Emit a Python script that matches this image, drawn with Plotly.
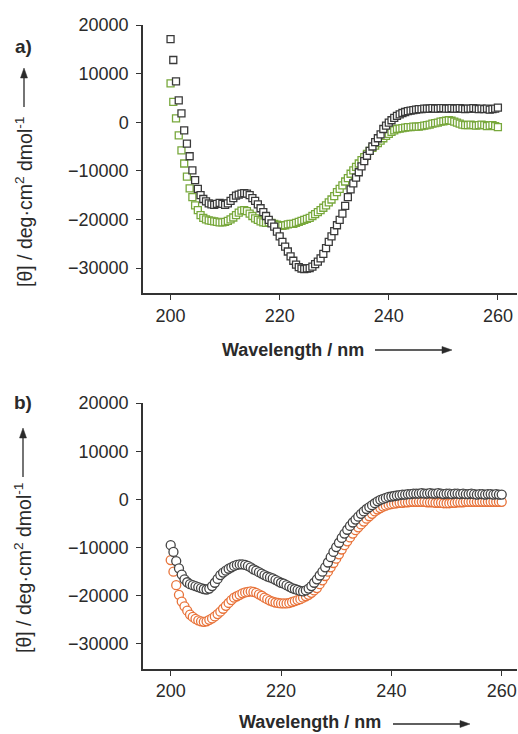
import plotly.graph_objects as go

W, H = 518, 734

# Wavelength grid (nm), 0.5 nm sampling 200..260
wavelength = [200 + 0.5 * i for i in range(121)]

# Panel a: squares
a_black = [
    17100, 12800, 8400, 4500, 1800, -1700, -4400, -7000, -9900, -11900,
    -13700, -15000, -15800, -16300, -16700, -16900, -17000, -16800, -16600, -16800,
    -17000, -16700, -16200, -15600, -15100, -14900, -14700, -14600, -14700, -15000,
    -15600, -16200, -16900, -17700, -18500, -19300, -20100, -20800, -21500, -22500,
    -23500, -24600, -25600, -26600, -27600, -28500, -29300, -29800, -30100, -30200,
    -30100, -30000, -29700, -29200, -28700, -28000, -27100, -25900, -24600, -23500,
    -22400, -21200, -20100, -18800, -17200, -15400, -13800, -12600, -11400, -10300,
    -9100, -8000, -6900, -5900, -5000, -4100, -3300, -2500, -1400, -700,
    -100, 400, 900, 1300, 1600, 1900, 2100, 2300, 2400, 2500,
    2600, 2700, 2700, 2800, 2800, 2800, 2900, 2800, 2800, 2900,
    2900, 2800, 2800, 2900, 2800, 2800, 2900, 2800, 2700, 2800,
    2800, 2900, 2800, 2700, 2800, 2700, 2800, 2600, 2700, 2800,
    3000,
]
a_green = [
    8000, 4200, 800, -2700, -5800, -8500, -11200, -13600, -15400, -17100,
    -18100, -19100, -19700, -20000, -20200, -20300, -20400, -20500, -20600, -20600,
    -20500, -20300, -20000, -19600, -19100, -18600, -18200, -18100, -18300, -18800,
    -19300, -19800, -20100, -20400, -20600, -20700, -20600, -20700, -20900, -21100,
    -21200, -21300, -21200, -21000, -20900, -20900, -20700, -20500, -20300, -20100,
    -19900, -19700, -19300, -18900, -18500, -18100, -17600, -17100, -16500, -15900,
    -15200, -14400, -13700, -13000, -12200, -11500, -10600, -9900, -9200, -8500,
    -7800, -7200, -6500, -5900, -5300, -4800, -4300, -3800, -3300, -2800,
    -2400, -2000, -1700, -1400, -1300, -1200, -1100, -1000, -1000, -900,
    -900, -900, -800, -700, -600, -500, -300, -200, -100, 100,
    200, 300, 400, 300, 100, -100, -300, -500, -600, -600,
    -500, -600, -700, -600, -500, -600, -800, -700, -600, -800,
    -1000,
]

# Panel b: circles
b_black = [
    -9500, -10900, -12800, -14300, -15600, -16600, -17200, -17600, -17800, -18000,
    -18200, -18400, -18600, -18700, -18500, -18000, -17300, -16500, -15700, -15200,
    -14800, -14400, -14100, -13800, -13600, -13500, -13500, -13600, -13800, -14100,
    -14500, -14800, -15100, -15400, -15700, -16000, -16200, -16400, -16700, -17000,
    -17300, -17500, -17800, -18100, -18400, -18600, -18800, -19000, -19100, -18900,
    -18500, -18000, -17300, -16600, -15800, -15000, -14100, -13100, -12000, -10900,
    -9900, -9000, -8000, -7100, -6300, -5500, -4800, -4200, -3600, -3000,
    -2500, -2000, -1600, -1200, -800, -400, -100, 100, 300, 500,
    600, 700, 800, 900, 1000, 1000, 1100, 1100, 1200, 1200,
    1200, 1300, 1200, 1200, 1300, 1200, 1200, 1300, 1200, 1100,
    1200, 1200, 1100, 1200, 1200, 1100, 1200, 1100, 1100, 1200,
    1100, 1000, 1100, 1100, 1000, 1100, 1100, 1000, 1100, 1000,
    1000,
]
b_orange = [
    -12600, -15000, -17800, -19800, -21200, -22200, -23100, -23900, -24400, -24800,
    -25100, -25300, -25400, -25300, -25000, -24700, -24300, -23800, -23300, -22700,
    -22100, -21500, -20900, -20400, -20100, -19800, -19500, -19300, -19200, -19100,
    -19200, -19400, -19700, -20000, -20400, -20700, -21000, -21200, -21400, -21500,
    -21600, -21600, -21600, -21500, -21300, -21100, -20900, -20700, -20400, -20100,
    -19800, -19400, -18900, -18400, -17600, -16800, -15900, -15000, -14100, -13200,
    -12300, -11400, -10400, -9500, -8700, -7900, -7100, -6400, -5800, -5200,
    -4600, -4000, -3500, -3000, -2500, -2100, -1800, -1500, -1300, -1100,
    -1000, -900, -800, -700, -700, -600, -600, -500, -500, -500,
    -500, -500, -500, -600, -600, -600, -700, -700, -700, -800,
    -800, -800, -700, -700, -600, -600, -600, -500, -500, -500,
    -500, -500, -500, -500, -500, -500, -500, -500, -500, -500,
    -500,
]

x_ticks = [200, 220, 240, 260]
y_ticks = [20000, 10000, 0, -10000, -20000, -30000]
y_ticktext = ["20000", "10000", "0", "\u221210000", "\u221220000", "\u221230000"]
y_title = "[\u03b8] / deg\u00b7cm<sup>2</sup> dmol<sup>-1</sup>"
x_title = "<b>Wavelength / nm</b>"

FONT = "Liberation Sans, Arial, Helvetica, sans-serif"
TXT = "#2a2a2a"

def px(x):
    return x / W

def py(y):
    return 1 - y / H

fig = go.Figure()

fig.add_trace(go.Scatter(x=wavelength, y=a_green, mode="markers", xaxis="x", yaxis="y",
                         marker=dict(symbol="square", size=7, color="white",
                                     line=dict(color="#78a83c", width=1.3))))
fig.add_trace(go.Scatter(x=wavelength, y=a_black, mode="markers", xaxis="x", yaxis="y",
                         marker=dict(symbol="square", size=7, color="white",
                                     line=dict(color="#3a3a3a", width=1.3))))
fig.add_trace(go.Scatter(x=wavelength, y=b_orange, mode="markers", xaxis="x2", yaxis="y2",
                         marker=dict(symbol="circle", size=9, color="white",
                                     line=dict(color="#e8733a", width=1.3))))
fig.add_trace(go.Scatter(x=wavelength, y=b_black, mode="markers", xaxis="x2", yaxis="y2",
                         marker=dict(symbol="circle", size=9, color="white",
                                     line=dict(color="#444444", width=1.3))))

axis_common = dict(showline=True, linecolor="#333", linewidth=1.5, ticks="outside",
                   ticklen=5, tickwidth=1.3, tickcolor="#333", showgrid=False, zeroline=False,
                   automargin=False,
                   tickfont=dict(size=18, color=TXT, family=FONT))

fig.update_layout(
    width=W, height=H, margin=dict(l=0, r=0, t=0, b=0, autoexpand=False),
    paper_bgcolor="white", plot_bgcolor="white", showlegend=False,
    font=dict(family=FONT, color=TXT),
    xaxis=dict(domain=[px(143), px(517)], range=[194.95, 263.5], anchor="y",
               tickvals=x_ticks, **axis_common),
    yaxis=dict(domain=[py(293.3), py(25)], range=[-35200, 20000], anchor="x",
               tickvals=y_ticks, ticktext=y_ticktext, ticklabelstandoff=4, **axis_common),
    xaxis2=dict(domain=[px(143), px(517)], range=[194.98, 262.77], anchor="y2",
                tickvals=x_ticks, **axis_common),
    yaxis2=dict(domain=[py(669), py(403)], range=[-35200, 20000], anchor="x2",
                tickvals=y_ticks, ticktext=y_ticktext, ticklabelstandoff=4, **axis_common),
)

ann = []
def label(text, cx, cy, size, angle=0):
    ann.append(dict(text=text, x=px(cx), y=py(cy), xref="paper", yref="paper",
                    xanchor="center", yanchor="middle", textangle=angle,
                    showarrow=False, font=dict(size=size, color=TXT, family=FONT)))

# panel labels
label("<b>a)</b>", 23, 46, 19)
label("<b>b)</b>", 23, 403, 19)
# y titles
label(y_title, 24, 202, 19.5, -90)
label(y_title, 23, 568, 19.5, -90)
# x titles
label(x_title, 293, 350, 18)
label(x_title, 310, 722, 18)
fig.update_layout(annotations=ann)

# arrows drawn as shapes (shaft + filled head), pixel positions -> paper
shapes = []
for tip, tail, xx in [(68, 107, 24), (428, 477, 23)]:
    shapes.append(dict(type="line", xref="paper", yref="paper",
                       x0=px(xx), x1=px(xx), y0=py(tail), y1=py(tip + 8),
                       line=dict(color=TXT, width=1.3)))
    shapes.append(dict(type="path", xref="paper", yref="paper",
                       path=f"M {px(xx)} {py(tip)} L {px(xx - 3.5)} {py(tip + 10)} L {px(xx + 3.5)} {py(tip + 10)} Z",
                       fillcolor=TXT, line=dict(color=TXT, width=0.5)))
for tip, tail, yy in [(452, 375, 350), (470, 393, 724)]:
    shapes.append(dict(type="line", xref="paper", yref="paper",
                       x0=px(tail), x1=px(tip - 8), y0=py(yy), y1=py(yy),
                       line=dict(color=TXT, width=1.3)))
    shapes.append(dict(type="path", xref="paper", yref="paper",
                       path=f"M {px(tip)} {py(yy)} L {px(tip - 10)} {py(yy - 3.5)} L {px(tip - 10)} {py(yy + 3.5)} Z",
                       fillcolor=TXT, line=dict(color=TXT, width=0.5)))
fig.update_layout(shapes=shapes)

fig.write_html("out.html", config={"displayModeBar": False},
               post_script="document.body.style.margin='0';")
